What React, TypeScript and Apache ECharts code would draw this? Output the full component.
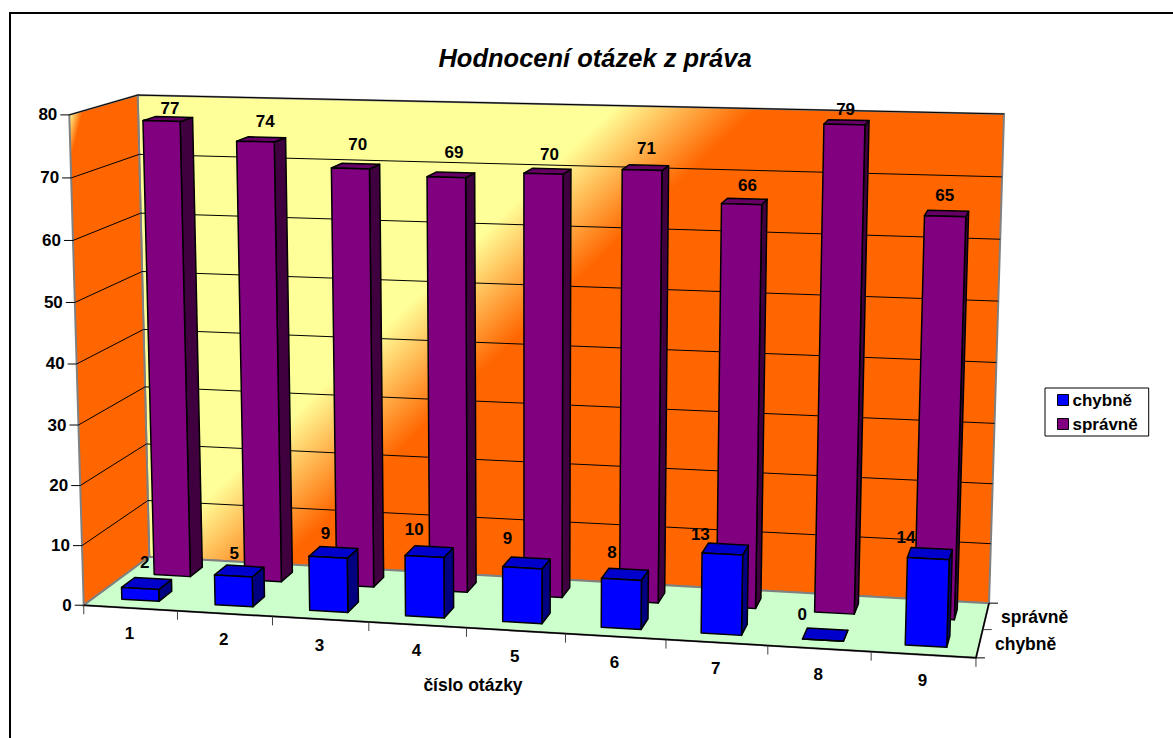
import React, { useEffect, useRef } from "react";
import * as echarts from "echarts";

const categories = ["1", "2", "3", "4", "5", "6", "7", "8", "9"];
const chybne = [2, 5, 9, 10, 9, 8, 13, 0, 14];
const spravne = [77, 74, 70, 69, 70, 71, 66, 79, 65];
const valueTicks = [0, 10, 20, 30, 40, 50, 60, 70, 80];
const seriesNames = ["chybně", "správně"];

const FONT = '"Liberation Sans", Arial, sans-serif';

// cube corner (u,v,w) -> pixel pairs that fix the perspective of the 3D box
const anchors: number[][] = [
  [0, 0, 0, 84, 605],
  [1, 0, 0, 976, 658],
  [0, 0, 1, 149, 557],
  [1, 0, 1, 989, 603],
  [0, 1, 0, 69, 115],
  [0, 1, 1, 138, 95],
  [1, 1, 1, 1004, 114],
];

function solveProjection(): number[] {
  const rows: number[][] = [];
  const rhs: number[] = [];
  for (const [u, v, w, x, y] of anchors) {
    rows.push([u, v, w, 1, 0, 0, 0, 0, -x * u, -x * v, -x * w]);
    rhs.push(x);
    rows.push([0, 0, 0, 0, u, v, w, 1, -y * u, -y * v, -y * w]);
    rhs.push(y);
  }
  const n = 11;
  const m: number[][] = [];
  for (let i = 0; i < n; i++) {
    const r: number[] = [];
    for (let j = 0; j < n; j++) {
      let s = 0;
      rows.forEach((row) => (s += row[i] * row[j]));
      r.push(s + (i === j ? 1e-9 : 0));
    }
    let s = 0;
    rows.forEach((row, k) => (s += row[i] * rhs[k]));
    r.push(s);
    m.push(r);
  }
  for (let c = 0; c < n; c++) {
    let p = c;
    for (let r = c + 1; r < n; r++) if (Math.abs(m[r][c]) > Math.abs(m[p][c])) p = r;
    [m[c], m[p]] = [m[p], m[c]];
    for (let r = 0; r < n; r++) {
      if (r === c) continue;
      const f = m[r][c] / m[c][c];
      for (let k = c; k <= n; k++) m[r][k] -= f * m[c][k];
    }
  }
  return m.map((r, i) => r[n] / r[i]);
}

const P = solveProjection();
function project(u: number, v: number, w: number): number[] {
  const d = P[8] * u + P[9] * v + P[10] * w + 1;
  return [
    (P[0] * u + P[1] * v + P[2] * w + P[3]) / d,
    (P[4] * u + P[5] * v + P[6] * w + P[7]) / d,
  ];
}

const blackLine = { stroke: "#000", lineWidth: 1 };
const grayLine = { stroke: "#808080", lineWidth: 2 };

function poly(points: number[][], style: any) {
  return { type: "polygon", shape: { points }, style };
}
function seg(a: number[], b: number[], style: any) {
  return {
    type: "line",
    shape: { x1: a[0], y1: a[1], x2: b[0], y2: b[1] },
    style: { ...style, fill: null },
  };
}
function txt(text: string, x: number, y: number, align = "center", size = 17) {
  return {
    type: "text",
    style: {
      text,
      x,
      y,
      align,
      verticalAlign: "middle",
      font: `bold ${size}px ${FONT}`,
      fill: "#000",
    },
  };
}

function toUV(params: any, api: any, cat: number, val: number) {
  const c = api.coord([cat, val]);
  const s = params.coordSys;
  return [(c[0] - s.x) / s.width, 1 - (c[1] - s.y) / s.height];
}

const barDepth: Record<string, number[]> = {
  "chybně": [0.15, 0.35],
  "správně": [0.65, 0.85],
};
const palette: Record<string, string[]> = {
  "chybně": ["#0000FF", "#0000CC", "#000080"],
  "správně": ["#800080", "#660066", "#400040"],
};
// per-point shift of the value labels, as placed in the reference
const labelNudge: Record<string, number[][]> = {
  "chybně": [[-2, -10], [-5, -7], [-8, -8], [-15, -11], [-19, -13], [-13, -11], [-25, -4], [-23, -9], [-24, -5]],
  "správně": [[2, 1], [4, -7], [2, -11], [3, -11], [2, -6], [1, -8], [3, -5], [-1, -2], [-2, -7]],
};

function renderBar(name: string) {
  return (params: any, api: any) => {
    const cat = api.value(0);
    const val = api.value(1);
    const [uc, v] = toUV(params, api, cat, val);
    const halfU = (api.size([1, 0])[0] * 0.4) / 2 / params.coordSys.width;
    const [w0, w1] = barDepth[name];
    const [c0, c1, c2] = palette[name];
    const u0 = uc - halfU;
    const u1 = uc + halfU;
    const edge = { stroke: "#000", lineWidth: 1.5, lineJoin: "round" };
    const front = [project(u0, 0, w0), project(u1, 0, w0), project(u1, v, w0), project(u0, v, w0)];
    const side = [project(u1, 0, w0), project(u1, 0, w1), project(u1, v, w1), project(u1, v, w0)];
    const top = [project(u0, v, w0), project(u1, v, w0), project(u1, v, w1), project(u0, v, w1)];
    const anchor = project(uc, v, (w0 + w1) / 2);
    const nudge = labelNudge[name][params.dataIndex];
    return {
      type: "group",
      children: [
        poly(side, { ...edge, fill: c2 }),
        poly(top, { ...edge, fill: c1 }),
        poly(front, { ...edge, fill: c0 }),
        txt(String(val), anchor[0] + nudge[0], anchor[1] - 11 + nudge[1]),
      ],
    };
  };
}

function renderRoom() {
  const A = project(0, 0, 0);
  const B = project(1, 0, 0);
  const C = project(0, 0, 1);
  const D = project(1, 0, 1);
  const E = project(0, 1, 0);
  const F = project(0, 1, 1);
  const G = project(1, 1, 1);
  const wallFill = new echarts.graphic.LinearGradient(
    300, 409, 368, 480,
    [
      { offset: 0, color: "#FFFF99" },
      { offset: 1, color: "#FF6600" },
    ],
    true
  );
  const sideFill = new echarts.graphic.LinearGradient(
    69, 115, 81, 118,
    [
      { offset: 0, color: "#FFFF99" },
      { offset: 1, color: "#FF6600" },
    ],
    true
  );
  return {
    type: "group",
    children: [
      poly([C, D, G, F], { fill: wallFill, ...grayLine }),
      poly([A, C, F, E], { fill: sideFill, ...grayLine }),
      poly([A, B, D, C], { fill: "#CCFFCC", ...grayLine }),
      seg(A, B, { stroke: "#000", lineWidth: 1.5 }),
      seg(B, D, { stroke: "#000", lineWidth: 1.5 }),
    ],
  };
}

function renderValueTick(params: any, api: any) {
  const val = api.value(1);
  const [, v] = toUV(params, api, 0, val);
  const a = project(0, v, 0);
  const b = project(0, v, 1);
  const c = project(1, v, 1);
  const children: any[] = [
    seg([a[0] - 9, a[1]], a, blackLine),
    txt(String(val), a[0] - 12, a[1], "right"),
  ];
  if (val > 0) {
    children.push(seg(a, b, blackLine), seg(b, c, blackLine));
  }
  return { type: "group", children };
}

function renderCategoryTick(params: any, api: any) {
  const cat = api.value(0);
  const [uc] = toUV(params, api, cat, 0);
  const half = api.size([1, 0])[0] / 2 / params.coordSys.width;
  const left = project(uc - half, 0, 0);
  const mid = project(uc, 0, 0);
  const right = project(uc + half, 0, 0);
  const children: any[] = [
    seg(left, [left[0], left[1] + 9], { stroke: "#404040", lineWidth: 1 }),
    txt(categories[cat], mid[0] - 1, mid[1] + 26),
  ];
  if (params.dataIndex === categories.length - 1) {
    children.push(seg(right, [right[0], right[1] + 9], { stroke: "#404040", lineWidth: 1 }));
  }
  return { type: "group", children };
}

function renderDepthAxis() {
  const t0 = project(1, 0, 0);
  const t1 = project(1, 0, 0.5);
  const t2 = project(1, 0, 1);
  return {
    type: "group",
    children: [
      seg(t0, [t0[0] + 9, t0[1]], blackLine),
      seg(t1, [t1[0] + 9, t1[1]], { stroke: "#404040", lineWidth: 1 }),
      seg(t2, [t2[0] + 9, t2[1]], blackLine),
      txt(seriesNames[0], t0[0] + 19, t0[1] - 14, "left", 17.5),
      txt(seriesNames[1], t2[0] + 12, t2[1] + 14, "left", 17.5),
    ],
  };
}

export default function App() {
  const ref = useRef<HTMLDivElement>(null);
  useEffect(() => {
    const chart = echarts.init(ref.current!, null, { renderer: "svg" });
    const base = { type: "custom", coordinateSystem: "cartesian2d", clip: false, silent: true };
    chart.setOption({
      animation: false,
      backgroundColor: "#fff",
      title: {
        text: "Hodnocení otázek z práva",
        left: 590,
        top: 40,
        textAlign: "center",
        textStyle: { fontFamily: FONT, fontSize: 25.5, fontWeight: "bold", fontStyle: "italic", color: "#000" },
      },
      grid: { left: 0, top: 0, width: 900, height: 800, containLabel: false },
      xAxis: { type: "category", data: categories, show: false },
      yAxis: { type: "value", min: 0, max: 80, interval: 10, show: false },
      legend: {
        left: 1045,
        top: 388,
        orient: "vertical",
        itemWidth: 11,
        itemHeight: 11,
        itemGap: 7,
        padding: [3.5, 11, 3.5, 12],
        borderColor: "#000",
        borderWidth: 1,
        backgroundColor: "#fff",
        icon: "rect",
        textStyle: { fontFamily: FONT, fontSize: 17, fontWeight: "bold", color: "#000", padding: [0, 0, 0, -1] },
        data: [
          { name: seriesNames[0], itemStyle: { color: "#0000FF", borderColor: "#000", borderWidth: 1 } },
          { name: seriesNames[1], itemStyle: { color: "#800080", borderColor: "#000", borderWidth: 1 } },
        ],
      },
      series: [
        { ...base, name: "room", z: 1, data: [[0, 0]], encode: { x: 0, y: 1 }, renderItem: renderRoom },
        {
          ...base,
          name: "values",
          z: 2,
          data: valueTicks.map((t) => [0, t]),
          encode: { x: 0, y: 1 },
          renderItem: renderValueTick,
        },
        {
          ...base,
          name: "categories",
          z: 2,
          data: categories.map((_, i) => [i, 0]),
          encode: { x: 0, y: 1 },
          renderItem: renderCategoryTick,
        },
        { ...base, name: "depth", z: 2, data: [[0, 0]], encode: { x: 0, y: 1 }, renderItem: renderDepthAxis },
        {
          ...base,
          name: seriesNames[1],
          z: 3,
          itemStyle: { color: "#800080" },
          data: spravne.map((v, i) => [i, v]),
          encode: { x: 0, y: 1 },
          renderItem: renderBar(seriesNames[1]),
        },
        {
          ...base,
          name: seriesNames[0],
          z: 4,
          itemStyle: { color: "#0000FF" },
          data: chybne.map((v, i) => [i, v]),
          encode: { x: 0, y: 1 },
          renderItem: renderBar(seriesNames[0]),
        },
      ],
      graphic: [
        { type: "line", z: 10, shape: { x1: 10, y1: 13, x2: 1173, y2: 13 }, style: { stroke: "#000", lineWidth: 2 } },
        { type: "line", z: 10, shape: { x1: 10, y1: 12, x2: 10, y2: 738 }, style: { stroke: "#000", lineWidth: 2 } },
        {
          type: "text",
          x: 473,
          y: 685,
          style: { text: "číslo otázky", align: "center", verticalAlign: "middle", font: `bold 17.5px ${FONT}`, fill: "#000" },
        },
      ],
    });
    return () => chart.dispose();
  }, []);
  return <div ref={ref} style={{ position: "fixed", left: 0, top: 0, width: 1173, height: 738 }} />;
}
